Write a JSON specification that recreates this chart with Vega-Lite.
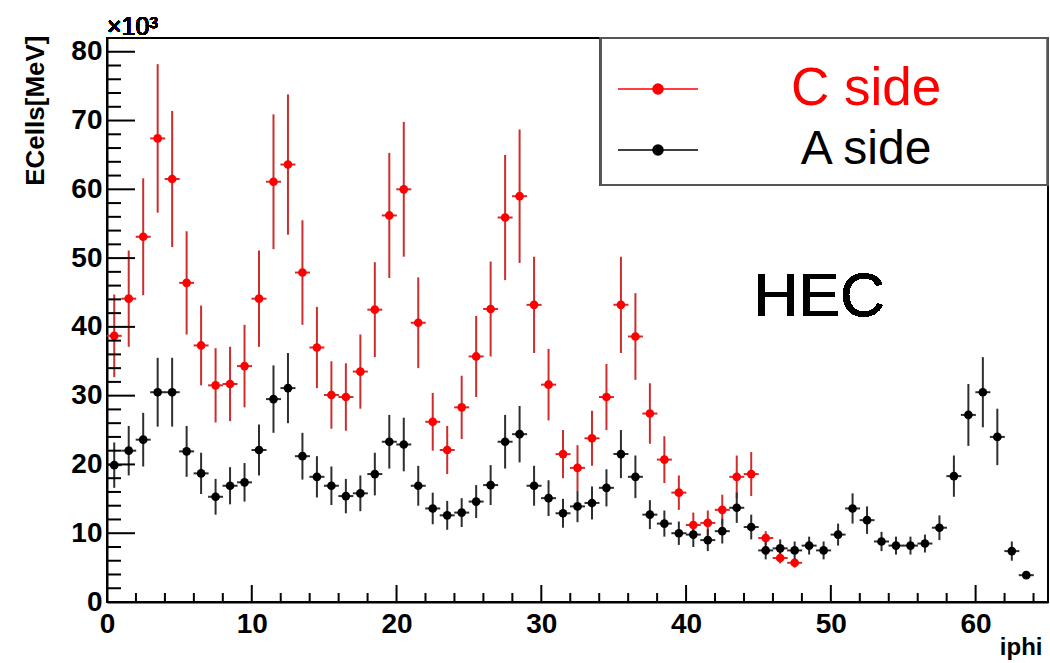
{
  "$schema": "https://vega.github.io/schema/vega-lite/v6.json",
  "width": 941,
  "height": 564,
  "autosize": {"type": "none"},
  "padding": {"left": 107, "top": 38, "right": 2, "bottom": 61},
  "background": "white",
  "config": {
    "font": "Liberation Sans",
    "view": {"stroke": "black", "strokeWidth": 2},
    "axis": {"grid": false}
  },
  "datasets": {
    "xmajor": [{"v": 0}, {"v": 10}, {"v": 20}, {"v": 30}, {"v": 40}, {"v": 50}, {"v": 60}],
    "xminor": [{"v": 2}, {"v": 4}, {"v": 6}, {"v": 8}, {"v": 12}, {"v": 14}, {"v": 16}, {"v": 18}, {"v": 22}, {"v": 24}, {"v": 26}, {"v": 28}, {"v": 32}, {"v": 34}, {"v": 36}, {"v": 38}, {"v": 42}, {"v": 44}, {"v": 46}, {"v": 48}, {"v": 52}, {"v": 54}, {"v": 56}, {"v": 58}, {"v": 62}, {"v": 64}],
    "ymajor": [{"v": 10}, {"v": 20}, {"v": 30}, {"v": 40}, {"v": 50}, {"v": 60}, {"v": 70}, {"v": 80}],
    "yminor": [{"v": 2}, {"v": 4}, {"v": 6}, {"v": 8}, {"v": 12}, {"v": 14}, {"v": 16}, {"v": 18}, {"v": 22}, {"v": 24}, {"v": 26}, {"v": 28}, {"v": 32}, {"v": 34}, {"v": 36}, {"v": 38}, {"v": 42}, {"v": 44}, {"v": 46}, {"v": 48}, {"v": 52}, {"v": 54}, {"v": 56}, {"v": 58}, {"v": 62}, {"v": 64}, {"v": 66}, {"v": 68}, {"v": 72}, {"v": 74}, {"v": 76}, {"v": 78}, {"v": 82}]
  },
  "data": {
    "values": [
      {"iphi": 0.5, "side": "C side", "E": 38.7, "err": 6.0},
      {"iphi": 1.5, "side": "C side", "E": 44.1, "err": 7.0},
      {"iphi": 2.5, "side": "C side", "E": 53.1, "err": 8.5},
      {"iphi": 3.5, "side": "C side", "E": 67.4, "err": 10.8},
      {"iphi": 4.5, "side": "C side", "E": 61.5, "err": 9.9},
      {"iphi": 5.5, "side": "C side", "E": 46.4, "err": 7.5},
      {"iphi": 6.5, "side": "C side", "E": 37.3, "err": 5.8},
      {"iphi": 7.5, "side": "C side", "E": 31.5, "err": 5.4},
      {"iphi": 8.5, "side": "C side", "E": 31.7, "err": 5.4},
      {"iphi": 9.5, "side": "C side", "E": 34.3, "err": 6.0},
      {"iphi": 10.5, "side": "C side", "E": 44.1, "err": 7.0},
      {"iphi": 11.5, "side": "C side", "E": 61.1, "err": 9.8},
      {"iphi": 12.5, "side": "C side", "E": 63.6, "err": 10.2},
      {"iphi": 13.5, "side": "C side", "E": 47.9, "err": 7.6},
      {"iphi": 14.5, "side": "C side", "E": 37.0, "err": 5.9},
      {"iphi": 15.5, "side": "C side", "E": 30.1, "err": 4.9},
      {"iphi": 16.5, "side": "C side", "E": 29.8, "err": 4.9},
      {"iphi": 17.5, "side": "C side", "E": 33.5, "err": 5.4},
      {"iphi": 18.5, "side": "C side", "E": 42.5, "err": 6.9},
      {"iphi": 19.5, "side": "C side", "E": 56.2, "err": 9.1},
      {"iphi": 20.5, "side": "C side", "E": 60.0, "err": 9.8},
      {"iphi": 21.5, "side": "C side", "E": 40.6, "err": 6.6},
      {"iphi": 22.5, "side": "C side", "E": 26.2, "err": 4.2},
      {"iphi": 23.5, "side": "C side", "E": 22.1, "err": 3.5},
      {"iphi": 24.5, "side": "C side", "E": 28.3, "err": 4.6},
      {"iphi": 25.5, "side": "C side", "E": 35.7, "err": 5.9},
      {"iphi": 26.5, "side": "C side", "E": 42.6, "err": 6.9},
      {"iphi": 27.5, "side": "C side", "E": 55.9, "err": 9.1},
      {"iphi": 28.5, "side": "C side", "E": 59.0, "err": 9.7},
      {"iphi": 29.5, "side": "C side", "E": 43.2, "err": 7.0},
      {"iphi": 30.5, "side": "C side", "E": 31.6, "err": 5.2},
      {"iphi": 31.5, "side": "C side", "E": 21.5, "err": 3.5},
      {"iphi": 32.5, "side": "C side", "E": 19.5, "err": 3.3},
      {"iphi": 33.5, "side": "C side", "E": 23.8, "err": 4.0},
      {"iphi": 34.5, "side": "C side", "E": 29.8, "err": 4.8},
      {"iphi": 35.5, "side": "C side", "E": 43.2, "err": 7.0},
      {"iphi": 36.5, "side": "C side", "E": 38.6, "err": 6.3},
      {"iphi": 37.5, "side": "C side", "E": 27.4, "err": 4.4},
      {"iphi": 38.5, "side": "C side", "E": 20.7, "err": 3.4},
      {"iphi": 39.5, "side": "C side", "E": 15.9, "err": 2.5},
      {"iphi": 40.5, "side": "C side", "E": 11.2, "err": 1.8},
      {"iphi": 41.5, "side": "C side", "E": 11.5, "err": 1.8},
      {"iphi": 42.5, "side": "C side", "E": 13.4, "err": 2.2},
      {"iphi": 43.5, "side": "C side", "E": 18.2, "err": 3.1},
      {"iphi": 44.5, "side": "C side", "E": 18.6, "err": 3.2},
      {"iphi": 45.5, "side": "C side", "E": 9.3, "err": 1.0},
      {"iphi": 46.5, "side": "C side", "E": 6.4, "err": 0.8},
      {"iphi": 47.5, "side": "C side", "E": 5.7, "err": 0.7},
      {"iphi": 0.5, "side": "A side", "E": 19.9, "err": 3.3},
      {"iphi": 1.5, "side": "A side", "E": 22.0, "err": 3.6},
      {"iphi": 2.5, "side": "A side", "E": 23.6, "err": 3.9},
      {"iphi": 3.5, "side": "A side", "E": 30.5, "err": 5.0},
      {"iphi": 4.5, "side": "A side", "E": 30.5, "err": 5.0},
      {"iphi": 5.5, "side": "A side", "E": 21.9, "err": 3.7},
      {"iphi": 6.5, "side": "A side", "E": 18.7, "err": 3.0},
      {"iphi": 7.5, "side": "A side", "E": 15.3, "err": 2.6},
      {"iphi": 8.5, "side": "A side", "E": 16.9, "err": 2.7},
      {"iphi": 9.5, "side": "A side", "E": 17.4, "err": 2.8},
      {"iphi": 10.5, "side": "A side", "E": 22.1, "err": 3.7},
      {"iphi": 11.5, "side": "A side", "E": 29.5, "err": 4.9},
      {"iphi": 12.5, "side": "A side", "E": 31.1, "err": 5.1},
      {"iphi": 13.5, "side": "A side", "E": 21.2, "err": 3.4},
      {"iphi": 14.5, "side": "A side", "E": 18.2, "err": 3.0},
      {"iphi": 15.5, "side": "A side", "E": 16.9, "err": 2.8},
      {"iphi": 16.5, "side": "A side", "E": 15.4, "err": 2.5},
      {"iphi": 17.5, "side": "A side", "E": 15.8, "err": 2.6},
      {"iphi": 18.5, "side": "A side", "E": 18.6, "err": 3.1},
      {"iphi": 19.5, "side": "A side", "E": 23.3, "err": 3.9},
      {"iphi": 20.5, "side": "A side", "E": 22.9, "err": 3.9},
      {"iphi": 21.5, "side": "A side", "E": 16.9, "err": 2.9},
      {"iphi": 22.5, "side": "A side", "E": 13.6, "err": 2.3},
      {"iphi": 23.5, "side": "A side", "E": 12.6, "err": 2.1},
      {"iphi": 24.5, "side": "A side", "E": 13.0, "err": 2.1},
      {"iphi": 25.5, "side": "A side", "E": 14.6, "err": 2.4},
      {"iphi": 26.5, "side": "A side", "E": 17.0, "err": 2.9},
      {"iphi": 27.5, "side": "A side", "E": 23.3, "err": 3.9},
      {"iphi": 28.5, "side": "A side", "E": 24.4, "err": 4.1},
      {"iphi": 29.5, "side": "A side", "E": 16.9, "err": 2.9},
      {"iphi": 30.5, "side": "A side", "E": 15.1, "err": 2.6},
      {"iphi": 31.5, "side": "A side", "E": 12.9, "err": 2.1},
      {"iphi": 32.5, "side": "A side", "E": 13.9, "err": 2.3},
      {"iphi": 33.5, "side": "A side", "E": 14.4, "err": 2.4},
      {"iphi": 34.5, "side": "A side", "E": 16.6, "err": 2.7},
      {"iphi": 35.5, "side": "A side", "E": 21.5, "err": 3.5},
      {"iphi": 36.5, "side": "A side", "E": 18.2, "err": 3.1},
      {"iphi": 37.5, "side": "A side", "E": 12.7, "err": 2.1},
      {"iphi": 38.5, "side": "A side", "E": 11.4, "err": 1.9},
      {"iphi": 39.5, "side": "A side", "E": 10.0, "err": 1.7},
      {"iphi": 40.5, "side": "A side", "E": 9.8, "err": 1.8},
      {"iphi": 41.5, "side": "A side", "E": 9.0, "err": 1.6},
      {"iphi": 42.5, "side": "A side", "E": 10.3, "err": 1.8},
      {"iphi": 43.5, "side": "A side", "E": 13.7, "err": 2.2},
      {"iphi": 44.5, "side": "A side", "E": 10.9, "err": 1.8},
      {"iphi": 45.5, "side": "A side", "E": 7.5, "err": 1.3},
      {"iphi": 46.5, "side": "A side", "E": 7.8, "err": 1.3},
      {"iphi": 47.5, "side": "A side", "E": 7.5, "err": 1.3},
      {"iphi": 48.5, "side": "A side", "E": 8.2, "err": 1.3},
      {"iphi": 49.5, "side": "A side", "E": 7.5, "err": 1.3},
      {"iphi": 50.5, "side": "A side", "E": 9.8, "err": 1.6},
      {"iphi": 51.5, "side": "A side", "E": 13.6, "err": 2.2},
      {"iphi": 52.5, "side": "A side", "E": 11.9, "err": 2.0},
      {"iphi": 53.5, "side": "A side", "E": 8.8, "err": 1.4},
      {"iphi": 54.5, "side": "A side", "E": 8.2, "err": 1.3},
      {"iphi": 55.5, "side": "A side", "E": 8.2, "err": 1.3},
      {"iphi": 56.5, "side": "A side", "E": 8.5, "err": 1.3},
      {"iphi": 57.5, "side": "A side", "E": 10.8, "err": 1.8},
      {"iphi": 58.5, "side": "A side", "E": 18.3, "err": 3.0},
      {"iphi": 59.5, "side": "A side", "E": 27.2, "err": 4.5},
      {"iphi": 60.5, "side": "A side", "E": 30.5, "err": 5.1},
      {"iphi": 61.5, "side": "A side", "E": 24.0, "err": 4.1},
      {"iphi": 62.5, "side": "A side", "E": 7.4, "err": 1.4},
      {"iphi": 63.5, "side": "A side", "E": 3.9, "err": 0.5}
    ]
  },
  "resolve": {
    "axis": {"x": "independent", "y": "independent"},
    "scale": {"color": "independent"}
  },
  "layer": [
    {
      "mark": {"type": "errorbar", "ticks": false, "thickness": 2},
      "encoding": {
        "x": {
          "field": "iphi", "type": "quantitative",
          "scale": {"domain": [0, 65], "nice": false, "zero": false},
          "axis": {
            "orient": "bottom", "title": "iphi",
            "values": [0, 10, 20, 30, 40, 50, 60],
            "ticks": false, "grid": false,
            "domain": true, "domainColor": "black", "domainWidth": 2,
            "labelFont": "Liberation Sans", "labelFontWeight": "bold", "labelFontSize": 28,
            "labelColor": "black", "labelPadding": 8, "labelFlush": false, "labelOverlap": false,
            "titleFont": "Liberation Sans", "titleFontWeight": "bold", "titleFontSize": 24,
            "titleColor": "black", "titleX": 935, "titleY": 52,
            "titleAlign": "right", "titleBaseline": "alphabetic", "titleAngle": 0
          }
        },
        "y": {
          "field": "E", "type": "quantitative",
          "scale": {"domain": [0, 82], "nice": false},
          "axis": {
            "orient": "left", "title": "ECells[MeV]",
            "values": [0, 10, 20, 30, 40, 50, 60, 70, 80],
            "ticks": false, "grid": false,
            "domain": true, "domainColor": "black", "domainWidth": 2,
            "labelFont": "Liberation Sans", "labelFontWeight": "bold", "labelFontSize": 28,
            "labelColor": "black", "labelPadding": 5, "labelFlush": false, "labelOverlap": false,
            "titleFont": "Liberation Sans", "titleFontWeight": "bold", "titleFontSize": 26,
            "titleColor": "black", "titleX": -72, "titleY": -3,
            "titleAngle": 270, "titleAlign": "right", "titleBaseline": "middle"
          }
        },
        "yError": {"field": "err"},
        "color": {
          "field": "side", "type": "nominal",
          "scale": {"domain": ["C side", "A side"], "range": ["#cc2e2e", "#2e2e2e"]},
          "legend": null
        }
      }
    },
    {
      "mark": {"type": "tick", "orient": "horizontal", "size": 15, "thickness": 2, "opacity": 1},
      "encoding": {
        "x": {"field": "iphi", "type": "quantitative", "axis": null},
        "y": {"field": "E", "type": "quantitative", "axis": null},
        "color": {
          "field": "side", "type": "nominal",
          "scale": {"domain": ["C side", "A side"], "range": ["#cc2e2e", "#2e2e2e"]},
          "legend": null
        }
      }
    },
    {
      "mark": {"type": "point", "filled": true, "size": 75, "opacity": 1},
      "encoding": {
        "x": {"field": "iphi", "type": "quantitative", "axis": null},
        "y": {"field": "E", "type": "quantitative", "axis": null},
        "color": {
          "field": "side", "type": "nominal",
          "scale": {"domain": ["C side", "A side"], "range": ["#ff0000", "#000000"]},
          "legend": {
            "orient": "none", "legendX": 510, "legendY": 25,
            "title": null, "direction": "vertical",
            "padding": 0, "rowPadding": 8,
            "strokeColor": null,
            "symbolType": "M-1,0L2.2,0M0.4,0A0.2,0.2,0,1,0,0.8,0A0.2,0.2,0,1,0,0.4,0Z",
            "symbolSize": 2500, "symbolStrokeWidth": 1.5,
            "symbolStrokeColor": {"expr": "datum.value === 'C side' ? '#ff0000' : '#000000'"},
            "labelFont": "Liberation Sans",
            "labelFontSize": {"expr": "datum.value === 'C side' ? 53 : 48"},
            "labelAlign": "center", "labelOffset": 197, "labelLimit": 500,
            "labelColor": {"expr": "datum.value === 'C side' ? '#ff0000' : '#000000'"}
          }
        }
      }
    },
    {
      "data": {"name": "xmajor"},
      "mark": {"type": "tick", "orient": "vertical", "size": 17, "thickness": 2, "color": "black", "opacity": 1, "yOffset": -8.5},
      "encoding": {
        "x": {"field": "v", "type": "quantitative", "axis": null},
        "y": {"datum": 0, "type": "quantitative", "axis": null}
      }
    },
    {
      "data": {"name": "xminor"},
      "mark": {"type": "tick", "orient": "vertical", "size": 9, "thickness": 2, "color": "black", "opacity": 1, "yOffset": -4.5},
      "encoding": {
        "x": {"field": "v", "type": "quantitative", "axis": null},
        "y": {"datum": 0, "type": "quantitative", "axis": null}
      }
    },
    {
      "data": {"name": "ymajor"},
      "mark": {"type": "tick", "orient": "horizontal", "size": 28, "thickness": 2, "color": "black", "opacity": 1, "xOffset": 14},
      "encoding": {
        "y": {"field": "v", "type": "quantitative", "axis": null},
        "x": {"datum": 0, "type": "quantitative", "axis": null}
      }
    },
    {
      "data": {"name": "yminor"},
      "mark": {"type": "tick", "orient": "horizontal", "size": 14, "thickness": 2, "color": "black", "opacity": 1, "xOffset": 7},
      "encoding": {
        "y": {"field": "v", "type": "quantitative", "axis": null},
        "x": {"datum": 0, "type": "quantitative", "axis": null}
      }
    },
    {
      "mark": {"type": "rect", "fill": "white", "stroke": "#555555", "strokeWidth": 2},
      "encoding": {
        "x": {"datum": 34.12, "type": "quantitative", "axis": null},
        "x2": {"datum": 64.95},
        "y": {"datum": 82, "type": "quantitative", "axis": null},
        "y2": {"datum": 60.63}
      }
    },
    {
      "mark": {"type": "text", "text": "HEC", "font": "Liberation Sans", "fontSize": 62, "color": "black", "align": "center", "baseline": "middle"},
      "encoding": {
        "x": {"datum": 49.2, "type": "quantitative", "axis": null},
        "y": {"datum": 44.4, "type": "quantitative", "axis": null}
      }
    },
    {
      "mark": {"type": "text", "text": "×10³", "font": "Liberation Sans", "fontSize": 25, "color": "black", "align": "left", "baseline": "alphabetic", "dx": 0, "dy": -3},
      "encoding": {
        "x": {"datum": 0, "type": "quantitative", "axis": null},
        "y": {"datum": 82, "type": "quantitative", "axis": null}
      }
    }
  ]
}
